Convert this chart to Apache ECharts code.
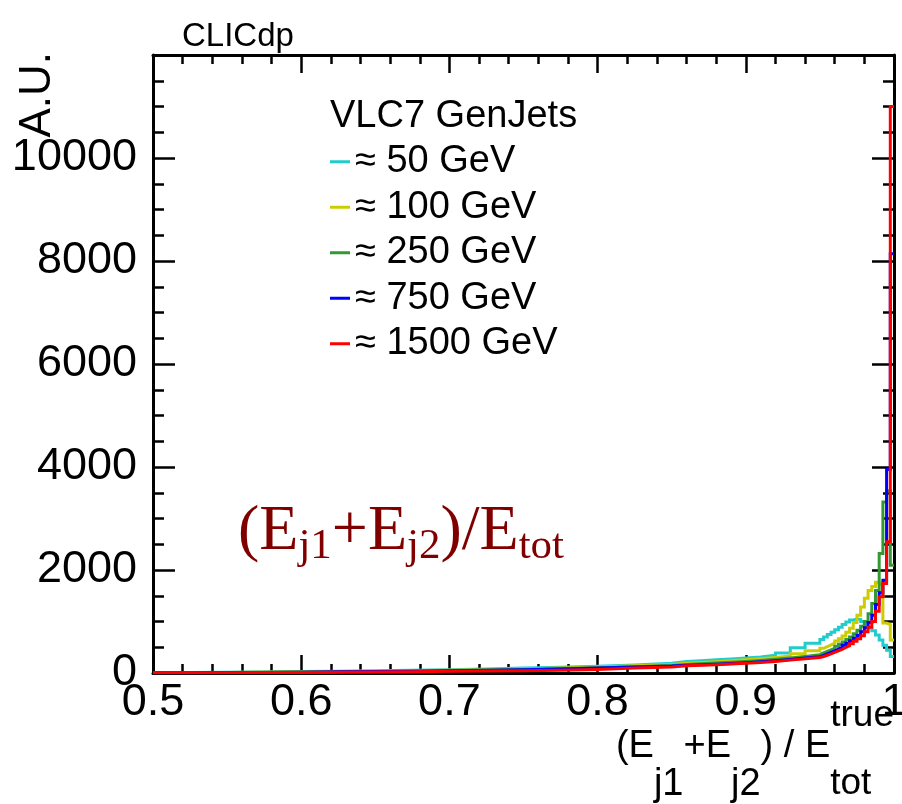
<!DOCTYPE html>
<html><head><meta charset="utf-8">
<script src="https://cdn.jsdelivr.net/npm/echarts@6/dist/echarts.min.js"></script>
<style>html,body{margin:0;padding:0;background:#fff}#c{width:902px;height:804px}</style>
</head><body><div id="c"></div>
<script>
// ---- data ----
const binLowEdges = [
  0.5, 0.525, 0.55, 0.575, 0.6, 0.625, 0.65, 0.675, 0.7, 0.725, 0.75, 0.775, 0.8, 0.825,
  0.85, 0.86, 0.87, 0.88, 0.89, 0.90, 0.91, 0.92, 0.93, 0.94,
  0.95, 0.9525, 0.955, 0.9575, 0.96, 0.9625, 0.965, 0.9675, 0.97, 0.9725,
  0.975, 0.9775, 0.98, 0.9825, 0.985, 0.9875, 0.99, 0.9925, 0.995, 0.9975
];
const binUpperEdge = 1.0;
const seriesNames = ['≈ 50 GeV', '≈ 100 GeV', '≈ 250 GeV', '≈ 750 GeV', '≈ 1500 GeV'];
const vals50 = [
  10, 15, 20, 28, 35, 45, 55, 65, 80, 95, 110, 130, 155, 190,
  225, 240, 255, 270, 290, 310, 345, 390, 490, 580,
  650, 700, 750, 790, 840, 890, 940, 990, 1030, 1050,
  1040, 1000, 950, 880, 820, 740, 640, 540, 440, 320
];
const vals100 = [
  8, 12, 16, 22, 28, 35, 43, 53, 65, 80, 97, 115, 140, 165,
  190, 205, 220, 240, 255, 275, 300, 330, 375, 430,
  480, 510, 545, 580, 620, 665, 720, 790, 870, 980,
  1120, 1280, 1450, 1600, 1680, 1760, 1720, 970, 940, 640
];
const vals250 = [
  6, 9, 13, 18, 24, 30, 37, 46, 57, 70, 85, 100, 122, 145,
  165, 180, 195, 210, 225, 245, 265, 290, 320, 355,
  390, 420, 450, 480, 520, 560, 600, 650, 700, 760,
  830, 910, 1000, 1150, 1350, 1600, 2320, 3320, 3540, 2090
];
const vals750 = [
  5, 8, 12, 16, 22, 27, 33, 42, 53, 64, 80, 95, 115, 135,
  150, 160, 172, 185, 200, 218, 238, 262, 290, 318,
  340, 370, 400, 430, 465, 500, 540, 580, 625, 675,
  730, 800, 880, 980, 1120, 1330, 1560, 1800, 3950, 8140
];
const vals1500 = [
  3, 5, 8, 12, 15, 20, 25, 32, 38, 45, 55, 70, 95, 115,
  140, 150, 160, 175, 190, 205, 225, 250, 275, 300,
  320, 345, 370, 400, 430, 460, 495, 530, 570, 615,
  665, 725, 800, 890, 1000, 1200, 1480, 1740, 2550, 11000
];
const allVals = [vals50, vals100, vals250, vals750, vals1500];

// ---- styling ----
const colors = ['#22cccc', '#cccc00', '#339933', '#0000ff', '#ff0000'];
const SANS = '"Liberation Sans", Arial, Helvetica, sans-serif';
const SERIF = '"Liberation Serif", "Times New Roman", serif';

function histData(vals) {
  const d = binLowEdges.map((e, i) => [e, vals[i]]);
  d.push([binUpperEdge, vals[vals.length - 1]]);
  return d;
}

const mctx = document.createElement('canvas').getContext('2d');
function tw(t, size, fam) { mctx.font = size + 'px ' + fam; return mctx.measureText(t).width; }

// lay out a row of text pieces on a common baseline
function textRow(pieces, x0, baseline, fam, color, alignRight) {
  let total = 0;
  const widths = pieces.map(p => {
    if (p.stack) return Math.max(...p.stack.map(q => tw(q.t, q.s, fam)));
    return tw(p.t, p.s, fam);
  });
  widths.forEach(w => total += w);
  let x = alignRight ? x0 - total : x0;
  const els = [];
  pieces.forEach((p, i) => {
    const list = p.stack ? p.stack : [p];
    list.forEach(q => {
      els.push({
        type: 'text', x: x, y: baseline + (q.dy || 0) - 0.31 * q.s, silent: true,
        style: { text: q.t, fontSize: q.s, fontFamily: fam, fill: color, align: 'left', verticalAlign: 'middle' }
      });
    });
    x += widths[i];
  });
  return els;
}

const graphics = [];
graphics.push({ type: 'text', x: 182, y: 37, style: { text: 'CLICdp', fontSize: 33, fontFamily: SANS, fill: '#000', align: 'left', verticalAlign: 'middle' } });
graphics.push({ type: 'text', x: 38, y: 52, rotation: Math.PI / 2, style: { text: 'A.U.', fontSize: 44, fontFamily: SANS, fill: '#000', align: 'right', verticalAlign: 'middle' } });
graphics.push({ type: 'text', x: 330, y: 116.5, style: { text: 'VLC7 GenJets', fontSize: 38, fontFamily: SANS, fill: '#000', align: 'left', verticalAlign: 'middle' } });
// x-axis title
textRow([
  { t: '(E', s: 38 }, { t: 'j1', s: 38, dy: 38 }, { t: '+E', s: 38 }, { t: 'j2', s: 38, dy: 38 },
  { t: ') / E', s: 38 }, { stack: [{ t: 'true', s: 37, dy: -31 }, { t: 'tot', s: 37, dy: 37 }] }
], 894, 758, SANS, '#000', true).forEach(e => graphics.push(e));
// in-plot label
textRow([
  { t: '(E', s: 64 }, { t: 'j1', s: 43, dy: 8 }, { t: '+E', s: 64 }, { t: 'j2', s: 43, dy: 8 },
  { t: ')/E', s: 64 }, { t: 'tot', s: 43, dy: 8 }
], 238, 552, SERIF, '#800000', false).forEach(e => graphics.push(e));

const tickStyle = { color: '#000', width: 2.5 };
const axisLineStyle = { color: '#000', width: 3 };

const option = {
  animation: false,
  backgroundColor: '#fff',
  grid: { left: 153, top: 55, right: 8, bottom: 131, containLabel: false, outerBoundsMode: 'none' },
  xAxis: [
    {
      type: 'value', min: 0.5, max: 1.0, interval: 0.1, position: 'bottom',
      splitLine: { show: false },
      axisLine: { onZero: false, lineStyle: axisLineStyle },
      axisTick: { inside: true, length: 18, lineStyle: tickStyle },
      minorTick: { show: true, splitNumber: 5, length: 9, lineStyle: tickStyle },
      axisLabel: { fontSize: 45, fontFamily: SANS, color: '#000', margin: 7 }
    },
    {
      type: 'value', min: 0.5, max: 1.0, interval: 0.1, position: 'top',
      splitLine: { show: false },
      axisLine: { onZero: false, lineStyle: axisLineStyle },
      axisTick: { inside: true, length: 18, lineStyle: tickStyle },
      minorTick: { show: true, splitNumber: 5, length: 9, lineStyle: tickStyle },
      axisLabel: { show: false }
    }
  ],
  yAxis: [
    {
      type: 'value', min: 0, max: 12000, interval: 2000, position: 'left',
      splitLine: { show: false },
      axisLine: { show: true, onZero: false, lineStyle: axisLineStyle },
      axisTick: { show: true, inside: true, length: 22, lineStyle: tickStyle },
      minorTick: { show: true, splitNumber: 4, length: 11, lineStyle: tickStyle },
      axisLabel: {
        fontSize: 45, fontFamily: SANS, color: '#000', margin: 16,
        formatter: v => (v >= 12000 ? '' : String(v))
      }
    },
    {
      type: 'value', min: 0, max: 12000, interval: 2000, position: 'right',
      splitLine: { show: false },
      axisLine: { show: true, onZero: false, lineStyle: axisLineStyle },
      axisTick: { show: true, inside: true, length: 22, lineStyle: tickStyle },
      minorTick: { show: true, splitNumber: 4, length: 11, lineStyle: tickStyle },
      axisLabel: { show: false }
    }
  ],
  legend: {
    show: true, orient: 'vertical', left: 330, top: 139, padding: 0, itemGap: 0,
    itemWidth: 20, itemHeight: 3, icon: 'rect', selectedMode: false,
    data: seriesNames,
    textStyle: { fontSize: 38, fontFamily: SANS, color: '#000', lineHeight: 45.5 }
  },
  series: allVals.map((vals, i) => ({
    name: seriesNames[i], type: 'line', step: 'end', symbol: 'none',
    xAxisIndex: 0, yAxisIndex: 0, clip: true,
    lineStyle: { color: colors[i], width: 3, cap: 'butt', join: 'miter' },
    itemStyle: { color: colors[i] },
    data: histData(vals)
  })),
  graphic: graphics
};

const chart = echarts.init(document.getElementById('c'), null, { renderer: 'canvas' });
chart.setOption(option);
</script>
</body></html>
